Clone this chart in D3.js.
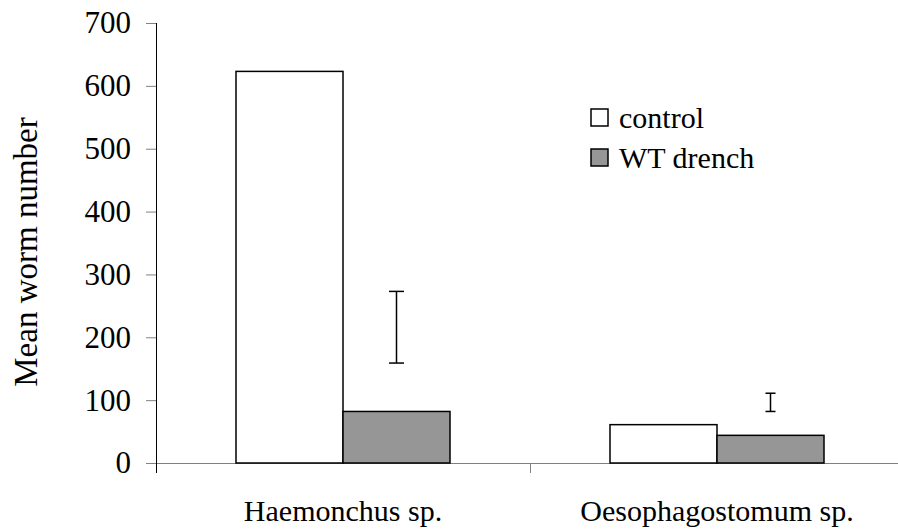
<!DOCTYPE html>
<html><head><meta charset="utf-8">
<script src="https://cdn.jsdelivr.net/npm/d3@7/dist/d3.min.js"></script>
<style>body{margin:0;background:#fff}svg{display:block}text{font-family:"Liberation Serif","Times New Roman",serif;fill:#000}</style>
</head><body>
<svg id="c" width="898" height="530"></svg>
<script>
const categories = ["Haemonchus sp.", "Oesophagostomum sp."];
const seriesNames = ["control", "WT drench"];
const controlValues = [623, 61];
const wtValues = [82, 44];
const wtErrLow = [159, 82];
const wtErrHigh = [273, 111];
const yTicks = [0, 100, 200, 300, 400, 500, 600, 700];
const colors = ["#ffffff", "#969696"];

const svg = d3.select("#c");
const m = {left:156, top:23, bottom:463, right:904};
const y = d3.scaleLinear().domain([0,700]).range([m.bottom, m.top]);
const x0 = d3.scaleBand().domain(categories).range([m.left, m.right]).padding(0);
const groupW = 214;
const x1 = d3.scaleBand().domain(seriesNames).range([0, groupW]).padding(0);

// y axis
const yAxis = d3.axisLeft(y).tickValues(yTicks).tickSize(10).tickPadding(15);
const gy = svg.append("g").attr("transform",`translate(${m.left},0)`).call(yAxis);
gy.attr("font-family",null).attr("font-size",null);
gy.select(".domain").attr("stroke","#000").attr("d",`M0.5,${m.top}V${m.bottom}`);
gy.selectAll(".tick line").attr("stroke","#808080");
gy.selectAll(".tick text").style("font-size","31px").attr("fill","#000");

// x axis
const xAxis = d3.axisBottom(x0).tickValues([]).tickSizeOuter(0);
const gx = svg.append("g").attr("transform",`translate(0,${m.bottom})`).call(xAxis);
gx.select(".domain").attr("stroke","#808080");
svg.append("g").selectAll("line").data(categories.slice(1)).join("line")
  .attr("x1",d=>x0(d)+0.5).attr("x2",d=>x0(d)+0.5)
  .attr("y1",m.bottom).attr("y2",m.bottom+10).attr("stroke","#808080");
svg.append("line").attr("x1",m.left-10).attr("x2",m.left).attr("y1",m.bottom+0.5).attr("y2",m.bottom+0.5).attr("stroke","#808080");
svg.append("line").attr("x1",m.left+0.5).attr("x2",m.left+0.5).attr("y1",m.bottom).attr("y2",m.bottom+10).attr("stroke","#000");

// bars
const data = categories.map((c,i)=>({cat:c, vals:[controlValues[i], wtValues[i]], lo:wtErrLow[i], hi:wtErrHigh[i]}));
const g = svg.append("g").selectAll("g").data(data).join("g")
  .attr("transform",d=>`translate(${x0(d.cat)+(x0.bandwidth()-groupW)/2},0)`);
g.selectAll("rect").data(d=>d.vals.map((v,j)=>({s:seriesNames[j],v,j}))).join("rect")
  .attr("x",d=>x1(d.s)).attr("width",x1.bandwidth())
  .attr("y",d=>y(d.v)).attr("height",d=>y(0)-y(d.v))
  .attr("fill",d=>colors[d.j]).attr("stroke","#000").attr("stroke-width",1.5);

// error bars (WT drench)
const capW = [15, 10];
g.each(function(d,i){
  const gg = d3.select(this);
  const cx = x1(seriesNames[1]) + x1.bandwidth()/2;
  gg.append("line").attr("x1",cx).attr("x2",cx).attr("y1",y(d.hi)).attr("y2",y(d.lo)).attr("stroke","#000").attr("stroke-width",1.5);
  [d.hi,d.lo].forEach(v=>gg.append("line").attr("x1",cx-capW[i]/2).attr("x2",cx+capW[i]/2)
    .attr("y1",y(v)).attr("y2",y(v)).attr("stroke","#000").attr("stroke-width",1.5));
});

// category labels
svg.append("g").selectAll("text").data(categories).join("text")
  .attr("x",d=>x0(d)+x0.bandwidth()/2).attr("y",521).attr("text-anchor","middle")
  .style("font-size","30px").text(d=>d);

// y label
svg.append("text").attr("transform","translate(37,252) rotate(-90)").attr("text-anchor","middle")
  .style("font-size","33px").text("Mean worm number");

// legend
const lg = svg.append("g").attr("transform","translate(591,0)");
const legY = [109, 149];
seriesNames.forEach((s,i)=>{
  lg.append("rect").attr("x",0).attr("y",legY[i]).attr("width",17).attr("height",17)
    .attr("fill",colors[i]).attr("stroke","#000").attr("stroke-width",1.5);
  lg.append("text").attr("x",28).attr("y",legY[i]+19).style("font-size","30px").text(s);
});
</script>
</body></html>
